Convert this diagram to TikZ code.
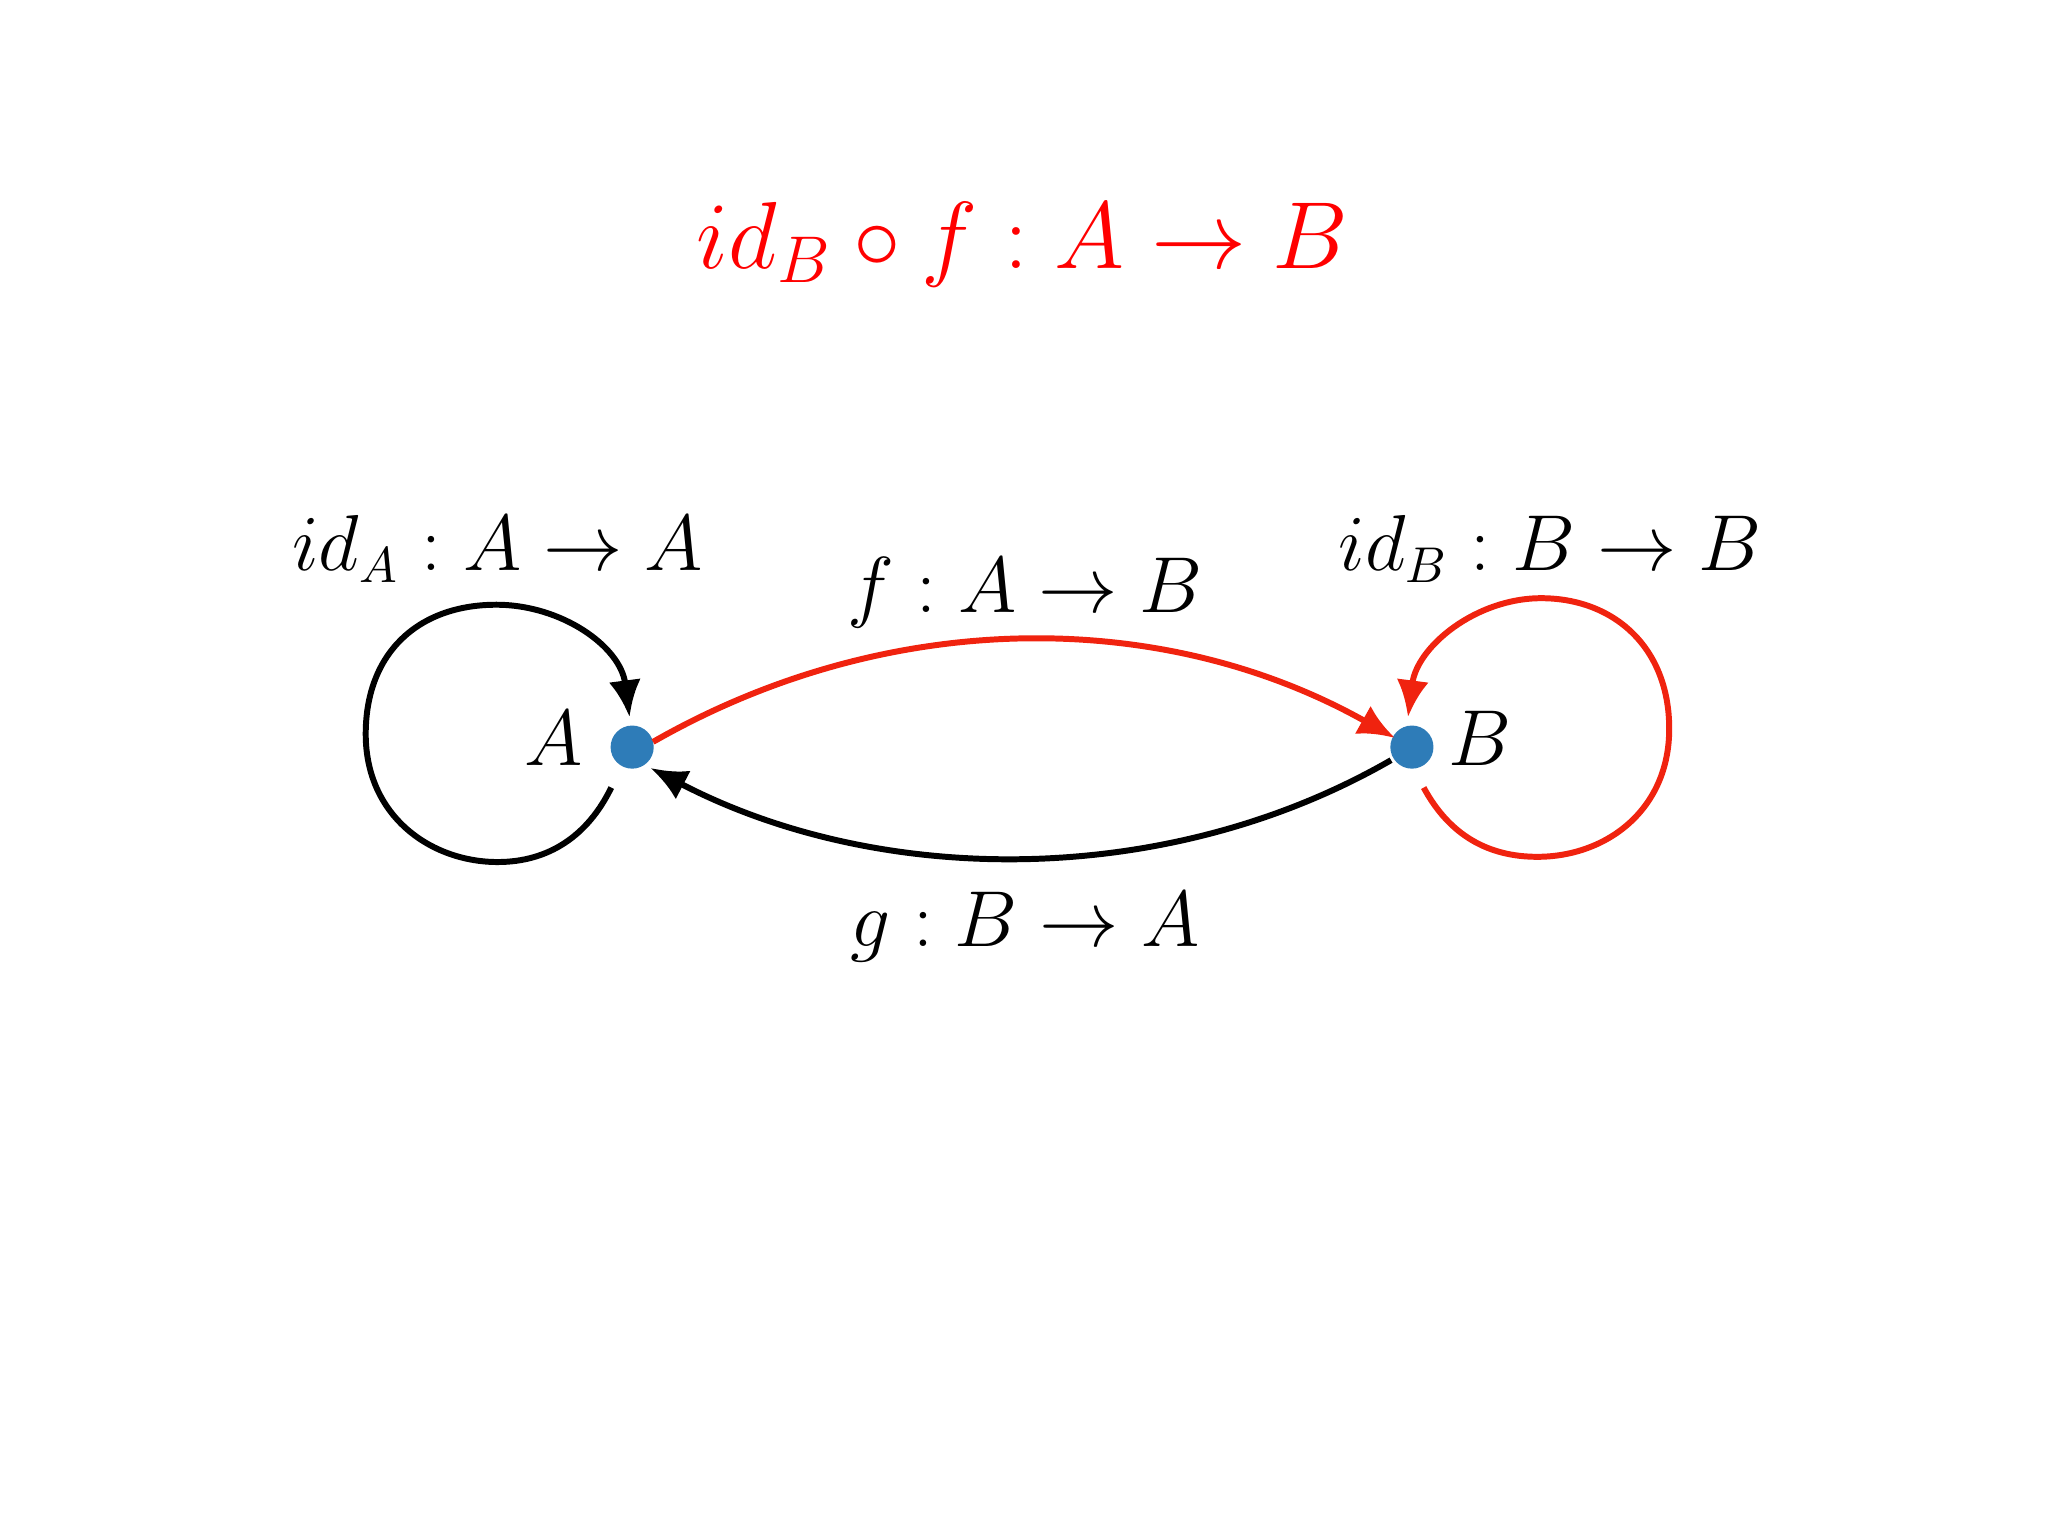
\documentclass[tikz,border=0pt]{standalone}
\usetikzlibrary{arrows.meta}
\begin{document}
\begin{tikzpicture}[x=0.01cm,y=-0.01cm,
  dot/.style={circle,fill={rgb,255:red,46;green,124;blue,184},inner sep=0pt,minimum size=0.33cm},
  edge/.style={line width=1.3pt,-{Latex[length=8pt,width=7pt]}},
  lbl/.style={font=\fontsize{16}{19}\selectfont}]
\definecolor{myred}{RGB}{240,35,15}
\useasboundingbox (0,0) rectangle (1568,1176);
\node[text=red,font=\fontsize{20.3}{24}\selectfont] (t) at (783,187) {$id_B\circ f : A\to B$};
\node[dot] (A) at (484,572) {};
\node[dot] (B) at (1081,572) {};
\node[lbl] (la) at (424,565) {$A$};
\node[lbl] (lb) at (1133,565) {$B$};
\node[lbl] (lidA) at (381,420) {$id_A : A\to A$};
\node[lbl] (lidB) at (1187,420) {$id_B : B\to B$};
\node[lbl] (lf) at (785,454) {$f : A\to B$};
\node[lbl] (lg) at (785,710) {$g : B\to A$};
\coordinate (fs) at (500,568); \coordinate (fe) at (1068,565);
\coordinate (gs) at (1065,582); \coordinate (ge) at (498,588);
\draw[edge,myred] (fs) .. controls (680,465) and (890,465) .. (fe);
\draw[edge,black] (gs) .. controls (895,680) and (675,680) .. (ge);
\coordinate (as) at (468,603); \coordinate (ae) at (482,549);
\draw[edge,black] (as) .. controls (450,640) and (420,660) .. (381,660)
  .. controls (330,660) and (280,625) .. (280,562)
  .. controls (280,500) and (320,463) .. (380,463)
  .. controls (430,463) and (475,495) .. (ae);
\coordinate (bs) at (1090,603); \coordinate (be) at (1078,549);
\draw[edge,myred] (bs) .. controls (1110,640) and (1140,656) .. (1177,656)
  .. controls (1230,656) and (1278,620) .. (1278,558)
  .. controls (1278,495) and (1235,458) .. (1180,458)
  .. controls (1130,458) and (1085,495) .. (be);
\end{tikzpicture}
\end{document}
